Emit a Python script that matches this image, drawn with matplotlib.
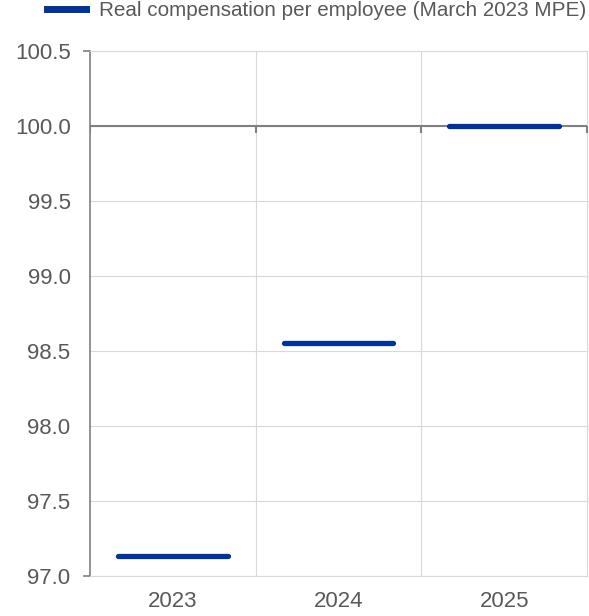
import matplotlib
matplotlib.use("Agg")
import matplotlib.pyplot as plt

plt.rcParams['font.family'] = ['Liberation Sans', 'DejaVu Sans']

years = ['2023', '2024', '2025']
values = [97.13, 98.55, 100.0]
series_name = 'Real compensation per employee (March 2023 MPE)'

blue = '#003299'
grey_text = '#595959'
grid_col = '#d9d9d9'
axis_col = '#808080'

fig = plt.figure(figsize=(5.89, 6.16), dpi=100)
ax = fig.add_axes([90 / 589, 40 / 616, 497 / 589, 525 / 616])

x = list(range(len(years)))
half = 0.33
segs = ax.hlines(values, [i - half for i in x], [i + half for i in x],
                 color=blue, linewidth=3.8, label=series_name, zorder=4)
segs.set_capstyle('round')

# reference line at 100 with tick marks at category boundaries
ax.axhline(100, color=axis_col, linewidth=1.5, zorder=3)
ax.plot([-0.5, 0.5, 1.5, 2.5], [100] * 4, linestyle='none', marker=3,
        markersize=5, markeredgewidth=1.5, color=axis_col, zorder=3)
ax.plot([-0.5, -0.5], [97.0, 100.5], linestyle='none', marker=0,
        markersize=5, markeredgewidth=1.2, color=axis_col, zorder=3, clip_on=False)

ax.set_xlim(-0.5, 2.5)
ax.set_ylim(97.0, 100.5)
ax.set_yticks([97.0, 97.5, 98.0, 98.5, 99.0, 99.5, 100.0, 100.5])
ax.set_yticklabels(['%.1f' % v for v in ax.get_yticks()])
ax.set_xticks(x)
ax.set_xticklabels(years)
ax.set_xticks([0.5, 1.5], minor=True)

ax.grid(True, which='major', axis='y', color=grid_col, linewidth=0.8)
ax.grid(True, which='minor', axis='x', color=grid_col, linewidth=0.8)
ax.set_axisbelow(True)

ax.tick_params(axis='both', which='both', length=0, labelsize=16, colors=grey_text)
ax.tick_params(axis='y', pad=14)
ax.tick_params(axis='x', pad=11)

for side in ['top', 'right', 'bottom']:
    ax.spines[side].set_color(grid_col)
    ax.spines[side].set_linewidth(0.8)
ax.spines['left'].set_color(axis_col)
ax.spines['left'].set_linewidth(1.2)

leg = fig.legend(handles=[plt.Line2D([], [], color=blue, linewidth=5)],
                 labels=[series_name], loc='upper right',
                 bbox_to_anchor=(587 / 589, 1.0), frameon=False,
                 fontsize=14.85, handlelength=1.89, handletextpad=0.63,
                 borderaxespad=0, borderpad=0.05)
for t in leg.get_texts():
    t.set_color(grey_text)

fig.savefig('out.png', dpi=100)
